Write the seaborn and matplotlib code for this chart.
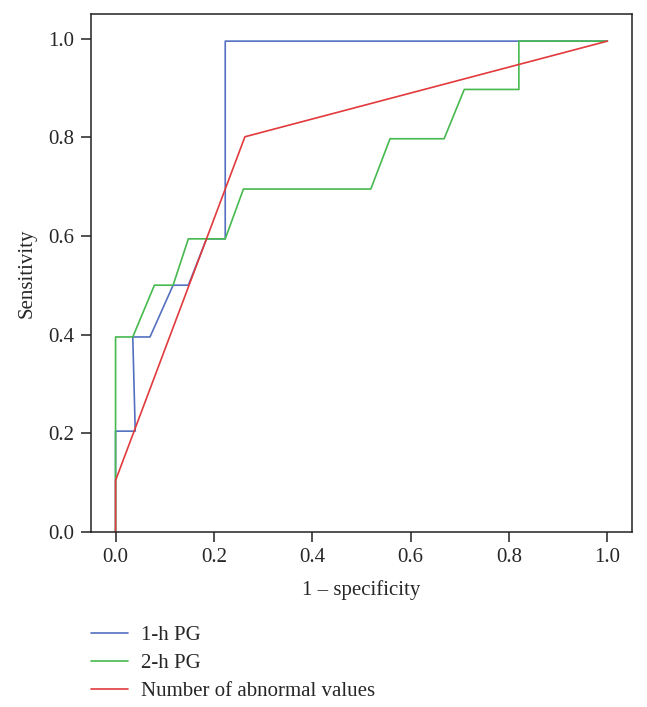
import pandas as pd
import matplotlib
matplotlib.use("Agg")
import matplotlib.pyplot as plt
import seaborn as sns

# ROC curve points
series_names = ["1-h PG", "2-h PG", "Number of abnormal values"]

fpr_1h = [0.0, 0.0, 0.040, 0.035, 0.070, 0.117, 0.148, 0.185, 0.223, 0.223, 1.0]
tpr_1h = [0.0, 0.204, 0.204, 0.395, 0.395, 0.500, 0.500, 0.594, 0.594, 0.995, 0.995]

fpr_2h = [0.0, 0.0, 0.035, 0.079, 0.117, 0.148, 0.223, 0.260, 0.519, 0.558, 0.668,
          0.709, 0.820, 0.820, 1.0]
tpr_2h = [0.0, 0.395, 0.395, 0.500, 0.500, 0.594, 0.594, 0.695, 0.695, 0.797, 0.797,
          0.897, 0.897, 0.995, 0.995]

fpr_abn = [0.0, 0.0, 0.263, 1.0]
tpr_abn = [0.0, 0.104, 0.801, 0.995]

tick_vals = [0.0, 0.2, 0.4, 0.6, 0.8, 1.0]
tick_labels = ["0.0", "0.2", "0.4", "0.6", "0.8", "1.0"]

colors = ["#5470c0", "#46b94f", "#e23a3c"]

#build long table for seaborn
frames = []
for name, xs, ys in zip(series_names, [fpr_1h, fpr_2h, fpr_abn], [tpr_1h, tpr_2h, tpr_abn]):
    frames.append(pd.DataFrame({"fpr": xs, "tpr": ys, "curve": name}))
df = pd.concat(frames, ignore_index=True)

sns.set_style("ticks")
plt.rcParams["font.family"] = ["Liberation Serif", "DejaVu Serif"]

fig = plt.figure(figsize=(6.47, 7.07), dpi=100)
ax = fig.add_axes([0.1406, 0.2479, 0.8362, 0.7323])

# sort=False keeps the step order of each ROC curve
sns.lineplot(data=df, x="fpr", y="tpr", hue="curve", hue_order=series_names,
             palette=colors, estimator=None, sort=False, linewidth=1.2, ax=ax)

ax.set_xlim(-0.05, 1.05)
ax.set_ylim(0, 1.05)
ax.set_xticks(tick_vals)
ax.set_yticks(tick_vals)
ax.set_xticklabels(tick_labels)
ax.set_yticklabels(tick_labels)
ax.tick_params(labelsize=15, length=7, width=1.1, color="#222222", pad=5)
for sp in ax.spines.values():
    sp.set_visible(True)
    sp.set_linewidth(1.1)
    sp.set_color("#222222")

ax.set_xlabel("1 \u2013 specificity", fontsize=15, labelpad=9)
ax.set_ylabel("Sensitivity", fontsize=15, labelpad=8)

ax.legend(loc="upper left", bbox_to_anchor=(0.14, 0.115), bbox_transform=fig.transFigure,
          frameon=False, fontsize=15, handlelength=1.8, handletextpad=0.6,
          labelspacing=0.4, borderpad=0, borderaxespad=0)

fig.savefig("out.png", dpi=100)
